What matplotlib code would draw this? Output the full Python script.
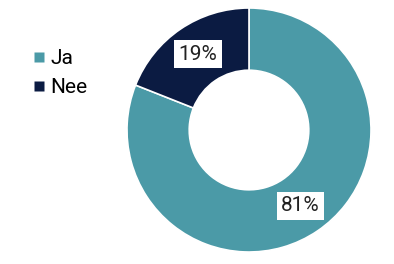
import numpy as np
import matplotlib.pyplot as plt
from matplotlib.lines import Line2D

plt.rcParams['font.family'] = ['Roboto', 'DejaVu Sans']

labels = ["Ja", "Nee"]
values = [81, 19]
colors = ["#4b9aa7", "#0b1b42"]

W, H = 394, 264
fig = plt.figure(figsize=(W / 100, H / 100), dpi=100)

# donut
cx, cy, r = 249, 130, 122
ax = fig.add_axes([(cx - r) / W, (H - cy - r) / H, 2 * r / W, 2 * r / H])
ax.pie(values, colors=colors, startangle=90, counterclock=False, radius=1,
       wedgeprops=dict(width=0.51, edgecolor="white", linewidth=1.2))
ax.set_xlim(-1, 1)
ax.set_ylim(-1, 1)
ax.set_aspect("equal")
ax.axis("off")

total = sum(values)
start = 90
for v in values:
    mid = np.deg2rad(start - v / total * 360 / 2)
    ax.text(0.75 * np.cos(mid), 0.75 * np.sin(mid), f"{v}%", ha="center", va="center",
            fontsize=15, color="#222222",
            bbox=dict(boxstyle="square,pad=0.22", fc="white", ec="none"))
    start -= v / total * 360

handles = [Line2D([], [], marker="s", linestyle="none", markersize=6.8,
                  markerfacecolor=c, markeredgecolor="none") for c in colors]
fig.legend(handles, labels, loc="upper left", bbox_to_anchor=(34 / W, 1 - 49 / H),
           frameon=False, fontsize=15, handletextpad=0.3, labelspacing=0.5,
           handlelength=0.5, borderpad=0, borderaxespad=0)

fig.savefig("out.png", dpi=100, facecolor="white")
